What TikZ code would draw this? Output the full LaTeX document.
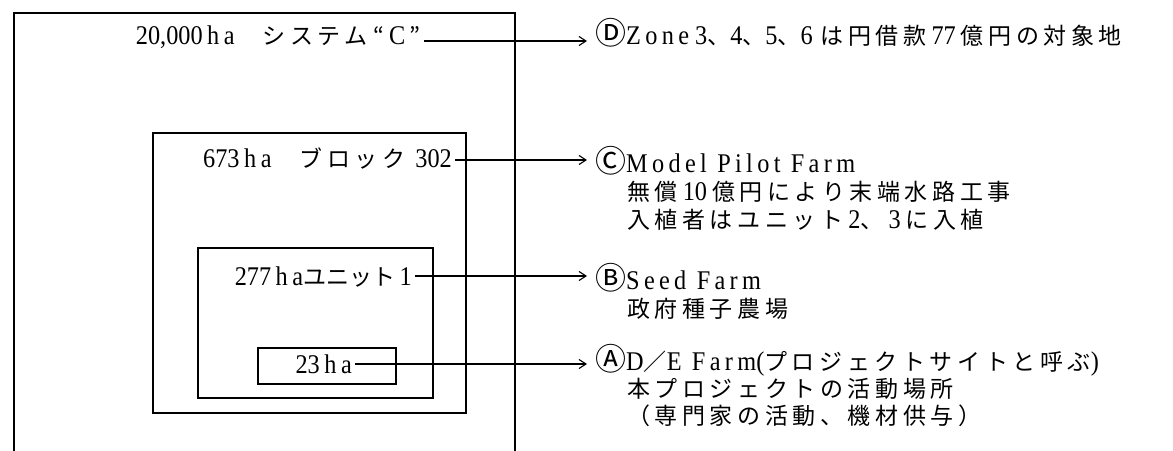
\documentclass[tikz,border=0pt]{standalone}
\usepackage{fontspec}
\setmainfont{Liberation Serif}[FakeStretch=0.9]
\newfontfamily\latsp{Liberation Serif}[FakeStretch=0.9, LetterSpace=16]
\newfontfamily\jp{Noto Sans CJK JP}[LetterSpace=20]
\newfontfamily\jpt{Noto Sans CJK JP}
\newcommand\J[1]{{\jp\fontsize{23}{27}\selectfont #1}}
\newcommand\Jt[1]{{\jpt\fontsize{23}{27}\selectfont #1}}
\newcommand\Eng[1]{{\latsp #1}}
\newcommand\Circ[1]{{\jpt\fontsize{31}{31}\selectfont #1}}
\usetikzlibrary{arrows.meta}
\tikzset{
  boxst/.style={draw, line width=1.6pt, inner sep=0pt, anchor=north west},
  lt/.style={inner sep=0pt, anchor=base east, font=\fontsize{27}{27}\selectfont},
  rt/.style={inner sep=0pt, anchor=base west, font=\fontsize{27}{27}\selectfont},
  arr/.style={line width=1.1pt, shorten >=8pt, shorten <=3pt, -{Straight Barb[length=7pt,width=9pt]}},
}
\begin{document}
\begin{tikzpicture}[x=1pt,y=-1pt]
\useasboundingbox (0,0) rectangle (1173,450);
\fill[white] (0,0) rectangle (1173,450);
\begin{scope}
\clip (0,0) rectangle (1173,450);
\node[boxst, minimum width=501pt, minimum height=470pt] (b1) at (13,12) {};
\end{scope}
\node[boxst, minimum width=313pt, minimum height=280pt] (b2) at (152,132) {};
\node[boxst, minimum width=235pt, minimum height=150pt] (b3) at (197,247) {};
\node[boxst, minimum width=138pt, minimum height=36pt] (b4) at (257,347) {};

% left labels
\node[lt] (t1) at (421,44) {20,000\,h\,a\hspace{28pt}\J{システム}\hspace{6pt}\Jt{“}\,C\,\Jt{”}};
\node[lt] (t2) at (452,167) {673\,h\,a\hspace{28pt}\J{ブロック}\hspace{10pt}302};
\node[lt] (t3) at (412,285) {277\,h\,a\Jt{ユニット}\,1};
\node[lt] (t4) at (352,373) {23\,h\,a};

% right texts
\node[rt] (rD) at (595,44) {\Circ{Ⓓ}\Eng{Zone}\ 3\J{、}4\J{、}5\J{、}6\hspace{8pt}\J{は円借款}\hspace{5pt}77\hspace{5pt}\J{億円の対象地}};
\node[rt] (rC) at (595,172) {\Circ{Ⓒ}\Eng{Model Pilot Farm}};
\node[rt] (rC2) at (627,200) {\J{無償}\hspace{5pt}10\hspace{5pt}\J{億円により末端水路工事}};
\node[rt] (rC3) at (627,228) {\J{入植者はユニット}\hspace{5pt}2\J{、}\hspace{5pt}3\hspace{5pt}\J{に入植}};
\node[rt] (rB) at (595,289) {\Circ{Ⓑ}\Eng{Seed Farm}};
\node[rt] (rB2) at (627,317) {\J{政府種子農場}};
\node[rt] (rA) at (595,370) {\Circ{Ⓐ}\Eng{D}\J{／}\Eng{E Farm}(\J{プロジェクトサイトと呼ぶ})};
\node[rt] (rA2) at (627,397) {\J{本プロジェクトの活動場所}};
\node[rt] (rA3) at (627,424) {\J{（専門家の活動、機材供与）}};

% connectors
\draw[arr] ([yshift=3pt]t1.base east) -- ([yshift=3pt]t1.base east -| rD.west);
\draw[arr] ([yshift=7pt]t2.base east) -- ([yshift=7pt]t2.base east -| rC.west);
\draw[arr] ([yshift=9pt]t3.base east) -- ([yshift=9pt]t3.base east -| rB.west);
\draw[arr] ([yshift=9pt]t4.base east) -- ([yshift=9pt]t4.base east -| rA.west);
\end{tikzpicture}
\end{document}
